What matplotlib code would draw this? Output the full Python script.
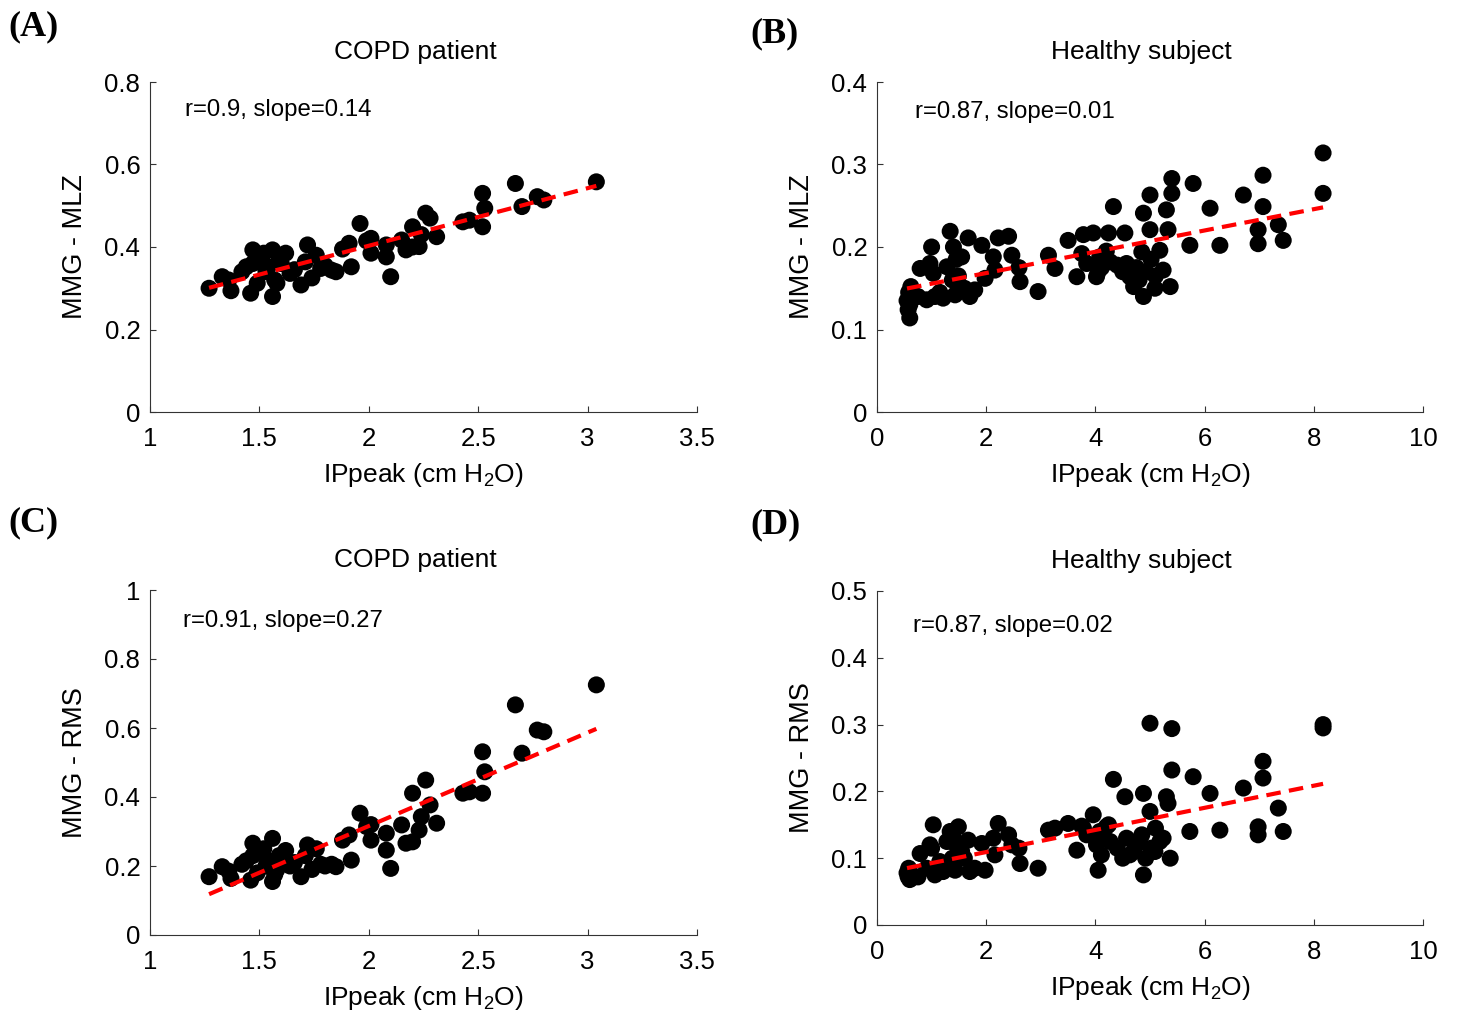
import numpy as np
import matplotlib
matplotlib.use("Agg")
import matplotlib.pyplot as plt
from matplotlib.ticker import FuncFormatter

plt.rcParams['font.family'] = ['Liberation Sans', 'DejaVu Sans']
plt.rcParams['mathtext.fontset'] = 'custom'
plt.rcParams['mathtext.rm'] = 'Liberation Sans'
plt.rcParams['mathtext.it'] = 'Liberation Sans'

# ---------------- COPD patient data ----------------
copd_ip = [1.27, 1.33, 1.36, 1.37, 1.42, 1.44, 1.46, 1.47, 1.47, 1.49,
           1.50, 1.52, 1.53, 1.54, 1.56, 1.56, 1.57, 1.58, 1.59, 1.60,
           1.62, 1.64, 1.66, 1.69, 1.71, 1.72, 1.74, 1.76, 1.78, 1.80,
           1.83, 1.85, 1.88, 1.91, 1.92, 1.96, 1.99, 2.01, 2.01, 2.08,
           2.08, 2.10, 2.15, 2.17, 2.20, 2.20, 2.23, 2.24, 2.26, 2.28,
           2.31, 2.43, 2.46, 2.52, 2.53, 2.52, 2.67, 2.70, 2.77, 2.80,
           3.04]
copd_mlz = [0.300, 0.328, 0.320, 0.294, 0.340, 0.352, 0.288, 0.393, 0.360, 0.312,
            0.375, 0.385, 0.340, 0.352, 0.393, 0.280, 0.320, 0.312, 0.370, 0.360,
            0.385, 0.336, 0.345, 0.308, 0.364, 0.405, 0.325, 0.380, 0.348, 0.355,
            0.344, 0.340, 0.395, 0.409, 0.352, 0.457, 0.415, 0.421, 0.385, 0.405,
            0.376, 0.328, 0.417, 0.393, 0.400, 0.449, 0.401, 0.430, 0.482, 0.470,
            0.425, 0.461, 0.465, 0.530, 0.494, 0.449, 0.554, 0.498, 0.522, 0.514,
            0.558]
copd_rms = [0.169, 0.198, 0.185, 0.164, 0.205, 0.215, 0.159, 0.266, 0.230, 0.180,
            0.240, 0.250, 0.200, 0.215, 0.280, 0.155, 0.175, 0.190, 0.230, 0.225,
            0.245, 0.200, 0.210, 0.169, 0.230, 0.261, 0.190, 0.250, 0.205, 0.200,
            0.205, 0.198, 0.275, 0.290, 0.217, 0.353, 0.314, 0.320, 0.275, 0.295,
            0.246, 0.193, 0.319, 0.266, 0.270, 0.411, 0.304, 0.343, 0.449, 0.377,
            0.324, 0.411, 0.415, 0.531, 0.473, 0.411, 0.667, 0.527, 0.594, 0.589,
            0.725]

# ---------------- Healthy subject data ----------------
healthy_ip = [0.57, 0.60, 0.55, 0.58, 0.62, 0.60, 0.75, 0.79, 0.91, 0.97,
              1.00, 1.03, 1.06, 1.15, 1.21, 1.28, 1.34, 1.38, 1.40, 1.43,
              1.45, 1.49, 1.55, 1.60, 1.67, 1.70, 1.79, 1.92, 1.98, 2.13,
              2.16, 2.22, 2.41, 2.47, 2.62, 2.60, 2.95, 3.14, 3.26, 3.50,
              3.66, 3.75, 3.78, 3.84, 3.96, 4.02, 4.05, 4.08, 4.11, 4.20,
              4.24, 4.27, 4.33, 4.40, 4.50, 4.54, 4.57, 4.63, 4.70, 4.75,
              4.80, 4.85, 4.88, 4.88, 4.92, 5.00, 5.00, 5.02, 5.09, 5.10,
              5.18, 5.24, 5.30, 5.33, 5.37, 5.40, 5.40, 5.73, 5.79, 6.10,
              6.28, 6.71, 6.98, 6.98, 7.07, 7.07, 7.35, 7.44, 8.17, 8.17]
healthy_mlz = [0.124, 0.114, 0.135, 0.145, 0.152, 0.130, 0.140, 0.174, 0.136, 0.180,
               0.200, 0.168, 0.140, 0.145, 0.138, 0.176, 0.219, 0.160, 0.200, 0.142,
               0.185, 0.165, 0.188, 0.150, 0.211, 0.140, 0.148, 0.202, 0.162, 0.188,
               0.172, 0.211, 0.213, 0.190, 0.158, 0.175, 0.146, 0.190, 0.174, 0.208,
               0.164, 0.192, 0.215, 0.180, 0.217, 0.164, 0.170, 0.188, 0.175, 0.195,
               0.217, 0.182, 0.249, 0.178, 0.170, 0.217, 0.180, 0.164, 0.152, 0.175,
               0.160, 0.194, 0.241, 0.140, 0.170, 0.263, 0.221, 0.185, 0.150, 0.165,
               0.196, 0.172, 0.245, 0.221, 0.152, 0.283, 0.265, 0.202, 0.277, 0.247,
               0.202, 0.263, 0.221, 0.204, 0.287, 0.249, 0.227, 0.208, 0.314, 0.265]
healthy_rms = [0.072, 0.068, 0.078, 0.085, 0.070, 0.075, 0.072, 0.107, 0.085, 0.120,
               0.115, 0.150, 0.075, 0.095, 0.080, 0.125, 0.140, 0.100, 0.130, 0.082,
               0.120, 0.147, 0.110, 0.100, 0.127, 0.080, 0.085, 0.122, 0.082, 0.130,
               0.105, 0.152, 0.135, 0.120, 0.092, 0.115, 0.085, 0.142, 0.145, 0.152,
               0.112, 0.148, 0.145, 0.135, 0.165, 0.120, 0.082, 0.140, 0.105, 0.147,
               0.150, 0.125, 0.218, 0.115, 0.100, 0.192, 0.130, 0.105, 0.110, 0.120,
               0.125, 0.135, 0.197, 0.075, 0.100, 0.302, 0.170, 0.115, 0.110, 0.145,
               0.125, 0.130, 0.192, 0.182, 0.100, 0.294, 0.232, 0.140, 0.222, 0.197,
               0.142, 0.205, 0.147, 0.135, 0.245, 0.220, 0.175, 0.140, 0.300, 0.295]

panel_labels = ["(A)", "(B)", "(C)", "(D)"]
titles = ["COPD patient", "Healthy subject", "COPD patient", "Healthy subject"]
ylabels = ["MMG - MLZ", "MMG - MLZ", "MMG - RMS", "MMG - RMS"]
stats = ["r=0.9, slope=0.14", "r=0.87, slope=0.01",
         "r=0.91, slope=0.27", "r=0.87, slope=0.02"]
xlabel = "IPpeak (cm H$_2$O)"

W, H = 1457, 1016
fig = plt.figure(figsize=(W / 100, H / 100), dpi=100)

def px_axes(l, r, t, b):
    return fig.add_axes([l / W, 1 - b / H, (r - l) / W, (b - t) / H])

specs = [
    dict(box=(150, 697, 82, 412), x=copd_ip, y=copd_mlz, xlim=(1, 3.5), xt=np.arange(1, 3.51, 0.5),
         ylim=(0, 0.8), yt=np.arange(0, 0.81, 0.2), txt=(0.064, 0.915), lab=(8, 27)),
    dict(box=(877, 1423, 82, 412), x=healthy_ip, y=healthy_mlz, xlim=(0, 10), xt=np.arange(0, 10.1, 2),
         ylim=(0, 0.4), yt=np.arange(0, 0.41, 0.1), txt=(0.07, 0.909), lab=(750, 34)),
    dict(box=(150, 697, 590, 935), x=copd_ip, y=copd_rms, xlim=(1, 3.5), xt=np.arange(1, 3.51, 0.5),
         ylim=(0, 1), yt=np.arange(0, 1.01, 0.2), txt=(0.06, 0.91), lab=(8, 523)),
    dict(box=(877, 1423, 591, 925), x=healthy_ip, y=healthy_rms, xlim=(0, 10), xt=np.arange(0, 10.1, 2),
         ylim=(0, 0.5), yt=np.arange(0, 0.51, 0.1), txt=(0.066, 0.895), lab=(750, 525)),
]

fmt = FuncFormatter(lambda v, p: f"{v:g}")

for i, s in enumerate(specs):
    ax = px_axes(*s["box"])
    x = np.array(s["x"]); y = np.array(s["y"])
    ax.scatter(x, y, s=150, color="black", edgecolors="none", zorder=2, clip_on=False)
    k, b0 = np.polyfit(x, y, 1)
    xx = np.array([x.min(), x.max()])
    ax.plot(xx, k * xx + b0, color="red", lw=3, linestyle=(0, (3.5, 2)), zorder=3)
    ax.set_xlim(*s["xlim"]); ax.set_ylim(*s["ylim"])
    ax.set_xticks(s["xt"]); ax.set_yticks(s["yt"])
    ax.xaxis.set_major_formatter(fmt); ax.yaxis.set_major_formatter(fmt)
    ax.tick_params(direction="in", length=4, width=0.8, labelsize=18.5, colors="#333333",
                   labelcolor="black")
    ax.tick_params(axis="y", pad=7)
    ax.tick_params(axis="x", pad=11)
    for sp in ("top", "right"):
        ax.spines[sp].set_visible(False)
    for sp in ("left", "bottom"):
        ax.spines[sp].set_color("#333333")
        ax.spines[sp].set_linewidth(0.8)
    ax.text(s["txt"][0], s["txt"][1], stats[i], transform=ax.transAxes,
            fontsize=17.3, ha="left", va="center")
    ax.text(0.485, 1 + 30 / ((s["box"][3] - s["box"][2])), titles[i], transform=ax.transAxes,
            fontsize=19, ha="center", va="center")
    ax.set_ylabel(ylabels[i], fontsize=19.5, labelpad=12)
    ax.set_xlabel(xlabel, fontsize=19, labelpad=7)
    fig.text(s["lab"][0] / W, 1 - s["lab"][1] / H, panel_labels[i], fontsize=26,
             fontweight="bold", family="Liberation Serif", ha="left", va="center")

fig.savefig("out.png", dpi=100)
